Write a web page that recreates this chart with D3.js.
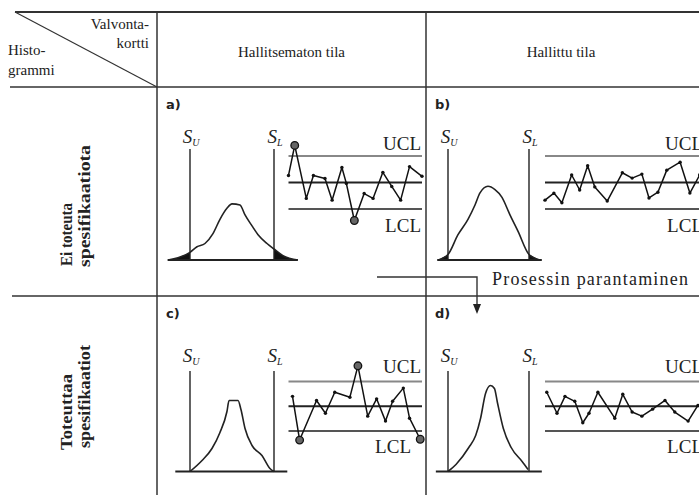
<!DOCTYPE html>
<html>
<head>
<meta charset="utf-8">
<script src="https://cdn.jsdelivr.net/npm/d3@7"></script>
<style>
  body { margin: 0; background: #fff; }
  svg { display: block; }
</style>
</head>
<body>
<div id="chart"></div>
<script>
const width = 699;
const height = 495;

// ---- texts ----
const columnTitles = ["Hallitsematon tila", "Hallittu tila"];
const rowTitles = [["Ei toteuta", "spesifikaatiota"], ["Toteuttaa", "spesifikaatiot"]];
const cornerTop = ["Valvonta-", "kortti"];
const cornerBottom = ["Histo-", "grammi"];
const panelLabels = ["a)", "b)", "c)", "d)"];
const specSubs = ["U", "L"];
const limitLabels = ["UCL", "LCL"];
const flowLabel = "Prosessin parantaminen";

// ---- histogram curves: [x in spec units (limits at -3 / +3), relative height] ----
const histA = [[-4.57,0],[-3.86,0.02],[-3,0.07],[-2.5,0.12],[-1.93,0.15],[-1.36,0.24],[-0.86,0.37],[-0.36,0.47],[0,0.51],[0.57,0.5],[0.93,0.41],[1.43,0.31],[1.86,0.23],[2.5,0.15],[3,0.1],[3.64,0.04],[4.71,0]];
const histB = [[-3.74,0],[-3,0.05],[-2.26,0.23],[-1.52,0.37],[-1,0.5],[-0.63,0.61],[-0.04,0.67],[0.48,0.64],[1,0.57],[1.59,0.41],[2.19,0.26],[3,0.05],[3.81,0]];
const histC = [[-3,0],[-2.14,0.11],[-1.43,0.23],[-0.86,0.39],[-0.36,0.6],[-0.21,0.71],[0.43,0.71],[0.64,0.62],[0.93,0.43],[1.43,0.26],[2.14,0.16],[2.71,0.03],[3,0]];
const histD = [[-3,0],[-2.41,0.07],[-1.46,0.24],[-0.95,0.36],[-0.59,0.53],[-0.22,0.78],[0.15,0.86],[0.44,0.83],[0.66,0.69],[1.1,0.43],[1.68,0.24],[2.49,0.1],[2.93,0.02]];
const baseA = [-4.6, 4.7];
const baseB = [-3.8, 3.95];
const baseC = [-4.05, 3.95];
const baseD = [-3.9, 3.95];

// ---- control charts: sample position and value in sigma units (limits at ±3) ----
const sampleA = [0, 0.7, 2.0, 2.8, 4.1, 4.9, 6.0, 6.5, 7.4, 8.5, 9.5, 10.6, 11.6, 12.6, 13.6, 15.0];
const valueA  = [0.8, 4.2, -1.8, 0.8, 0.45, -2.0, 1.7, -0.1, -4.3, -1.25, -1.8, 1.15, -0.45, -2.0, 1.8, 0.7];
const sampleB = [0, 1.0, 1.9, 3.0, 3.9, 4.8, 5.6, 7.0, 8.7, 9.8, 10.9, 11.7, 12.7, 13.7, 15.2, 16.3, 17.4];
const valueB  = [-2.0, -1.2, -2.3, 0.85, -0.85, 1.9, -0.5, -2.1, 1.1, 0.5, 0.95, -1.75, -1.1, 1.4, 2.3, -1.2, 0.85];
const sampleC = [0.45, 1.25, 3.15, 4.15, 5.2, 6.9, 7.8, 8.9, 9.9, 10.9, 11.7, 12.9, 13.6, 14.8];
const valueC  = [1.2, -4.1, 0.7, -0.85, 1.7, 1.1, 4.9, -1.2, 0.9, -1.8, 0.6, 2.2, -1.45, -4.0];
const sampleD = [0.2, 1.35, 2.25, 3.35, 4.25, 4.95, 5.95, 7.85, 8.75, 9.8, 10.9, 12.1, 13.5, 14.6, 16.1, 17.2];
const valueD  = [1.7, -0.85, 1.2, 0.6, -2.0, -0.85, 1.7, -1.45, 1.45, -0.7, -1.2, -0.35, 0.7, -0.7, -1.8, 0.1];

// ---- layout ----
const ink = "#222";
const serif = "'Liberation Serif', 'DejaVu Serif', serif";
const gridX = [157, 426];          // left edges of the two data columns
const gridY = [87, 296];           // top edges of the two data rows
const gridTop = 12;

const colLayout = [
  { sv: 33, sl: 117, chart: [131.5, 265], lineEnd: 265, tMax: 15, labelEnd: 264 },
  { sv: 22, sl: 103, chart: [119, 279],   lineEnd: 290, tMax: 18, labelEnd: 277 }
];
const rowLayout = [
  { base: 173,   histH: 110, specTop: 62, ucl: 69,   lcl: 122, specLabel: 56, uclLabel: 63, lclLabel: 145 },
  { base: 175.5, histH: 100, specTop: 75, ucl: 85.5, lcl: 135, specLabel: 66, uclLabel: 77, lclLabel: 157 }
];
// rotated row titles: [baseline x, start y, forced length] per line
const rowTitleLayout = [
  [[72, 266, 63], [90, 267, 122]],
  [[72, 450, 76], [90, 448, 103]]
];

const panels = [
  { label: panelLabels[0], col: 0, row: 0, hist: histA, base: baseA, t: sampleA, v: valueA, lclShift: 0 },
  { label: panelLabels[1], col: 1, row: 0, hist: histB, base: baseB, t: sampleB, v: valueB, lclShift: 0 },
  { label: panelLabels[2], col: 0, row: 1, hist: histC, base: baseC, t: sampleC, v: valueC, lclShift: -10 },
  { label: panelLabels[3], col: 1, row: 1, hist: histD, base: baseD, t: sampleD, v: valueD, lclShift: 0 }
];

const svg = d3.select("#chart")
  .append("svg")
  .attr("width", width)
  .attr("height", height)
  .style("font-family", serif);

// ---- table grid ----
const grid = svg.append("g")
  .attr("stroke", "#333")
  .attr("stroke-width", 1.5);

grid.append("line").attr("x1", 15).attr("y1", gridTop).attr("x2", width).attr("y2", gridTop).attr("stroke-width", 2);
grid.append("line").attr("x1", 10).attr("y1", gridY[0]).attr("x2", width).attr("y2", gridY[0]);
grid.append("line").attr("x1", 12).attr("y1", gridY[1]).attr("x2", width).attr("y2", gridY[1]);
gridX.forEach(x => {
  grid.append("line").attr("x1", x).attr("y1", gridTop).attr("x2", x).attr("y2", height);
});
grid.append("line").attr("x1", 15).attr("y1", gridTop).attr("x2", gridX[0]).attr("y2", gridY[0]).attr("stroke-width", 1.2);

// ---- header texts ----
const head = svg.append("g").attr("fill", ink).style("font-size", "15px");

head.selectAll(".ct")
  .data(cornerTop)
  .enter().append("text")
  .attr("x", 149)
  .attr("y", (d, i) => 29 + i * 19)
  .attr("text-anchor", "end")
  .text(d => d);

head.selectAll(".cb")
  .data(cornerBottom)
  .enter().append("text")
  .attr("x", 8)
  .attr("y", (d, i) => 55 + i * 20)
  .text(d => d);

head.selectAll(".col")
  .data(columnTitles)
  .enter().append("text")
  .attr("x", (d, i) => (gridX[i] + (i ? 696 : gridX[1])) / 2)
  .attr("y", 57)
  .attr("text-anchor", "middle")
  .text(d => d);

// row titles, rotated
rowTitles.forEach((lines, r) => {
  lines.forEach((t, i) => {
    const [bx, by, len] = rowTitleLayout[r][i];
    svg.append("text")
      .attr("transform", `translate(${bx}, ${by}) rotate(-90)`)
      .attr("fill", ink)
      .attr("textLength", len)
      .attr("lengthAdjust", "spacingAndGlyphs")
      .style("font-size", "16px")
      .style("font-weight", "bold")
      .text(t);
  });
});

// ---- panels ----
panels.forEach(p => {
  const c = colLayout[p.col];
  const r = rowLayout[p.row];
  const g = svg.append("g").attr("transform", `translate(${gridX[p.col]}, ${gridY[p.row]})`);

  g.append("text")
    .attr("x", 9).attr("y", 22)
    .attr("fill", ink)
    .style("font-family", "'DejaVu Sans', sans-serif")
    .style("font-weight", "bold")
    .style("font-size", "13px")
    .text(p.label);

  // histogram
  const x = d3.scaleLinear().domain([-3, 3]).range([c.sv, c.sl]);
  const y = d3.scaleLinear().domain([0, 1]).range([r.base, r.base - r.histH]);

  const lowTail = p.hist.filter(d => d[0] <= -3);
  const highTail = p.hist.filter(d => d[0] >= 3);
  const area = d3.area().x(d => x(d[0])).y0(y(0)).y1(d => y(d[1])).curve(d3.curveMonotoneX);
  [lowTail, highTail].forEach(tail => {
    if (tail.length > 1) g.append("path").attr("d", area(tail)).attr("fill", "#111");
  });

  g.append("path")
    .datum(p.hist)
    .attr("d", d3.line().x(d => x(d[0])).y(d => y(d[1])).curve(d3.curveMonotoneX))
    .attr("fill", "none")
    .attr("stroke", ink)
    .attr("stroke-width", 1.6);

  g.append("line")
    .attr("x1", x(p.base[0])).attr("x2", x(p.base[1]))
    .attr("y1", y(0)).attr("y2", y(0))
    .attr("stroke", ink).attr("stroke-width", 2);

  [-3, 3].forEach((s, i) => {
    g.append("line")
      .attr("x1", x(s)).attr("x2", x(s))
      .attr("y1", y(0)).attr("y2", r.specTop)
      .attr("stroke", ink).attr("stroke-width", 1.4);
    const lab = g.append("text")
      .attr("x", x(s) + 1).attr("y", r.specLabel)
      .attr("text-anchor", "middle")
      .attr("fill", ink)
      .style("font-size", "19px")
      .style("font-style", "italic");
    lab.append("tspan").text("S");
    lab.append("tspan").attr("dy", 3).style("font-size", "10px").text(specSubs[i]);
  });

  // control chart
  const cx = d3.scaleLinear().domain([0, c.tMax]).range(c.chart);
  const cy = d3.scaleLinear().domain([-3, 3]).range([r.lcl, r.ucl]);
  const limits = [
    { v: 3, color: "#888" },
    { v: 0, color: "#222" },
    { v: -3, color: "#555" }
  ];
  g.selectAll(".lim")
    .data(limits)
    .enter().append("line")
    .attr("x1", c.chart[0]).attr("x2", c.lineEnd)
    .attr("y1", d => cy(d.v)).attr("y2", d => cy(d.v))
    .attr("stroke", d => d.color)
    .attr("stroke-width", 2);

  const pts = p.t.map((t, i) => [t, p.v[i]]);
  g.append("path")
    .datum(pts)
    .attr("d", d3.line().x(d => cx(d[0])).y(d => cy(d[1])))
    .attr("fill", "none")
    .attr("stroke", "#111")
    .attr("stroke-width", 1.5)
    .attr("stroke-linejoin", "round");

  g.selectAll(".dot")
    .data(pts)
    .enter().append("circle")
    .attr("cx", d => cx(d[0])).attr("cy", d => cy(d[1]))
    .attr("r", 1.7)
    .attr("fill", "#111");

  g.selectAll(".out")
    .data(pts.filter(d => Math.abs(d[1]) > 3))
    .enter().append("circle")
    .attr("cx", d => cx(d[0])).attr("cy", d => cy(d[1]))
    .attr("r", 3.8)
    .attr("fill", "#666")
    .attr("stroke", "#111")
    .attr("stroke-width", 1.3);

  g.append("text")
    .attr("x", c.labelEnd).attr("y", r.uclLabel)
    .attr("text-anchor", "end")
    .attr("fill", ink)
    .style("font-size", "19px")
    .text(limitLabels[0]);
  g.append("text")
    .attr("x", c.labelEnd + p.lclShift).attr("y", r.lclLabel)
    .attr("text-anchor", "end")
    .attr("fill", ink)
    .style("font-size", "19px")
    .text(limitLabels[1]);
});

// ---- process improvement arrow ----
const flow = svg.append("g");
flow.append("path")
  .attr("d", `M377,277 H477 V306`)
  .attr("fill", "none")
  .attr("stroke", "#333")
  .attr("stroke-width", 1.4);
flow.append("path")
  .attr("d", "M473,304 L481,304 L477,314 Z")
  .attr("fill", "#222");
flow.append("text")
  .attr("x", 492).attr("y", 285)
  .attr("fill", ink)
  .style("font-size", "18px")
  .attr("textLength", 196)
  .text(flowLabel);
</script>
</body>
</html>
